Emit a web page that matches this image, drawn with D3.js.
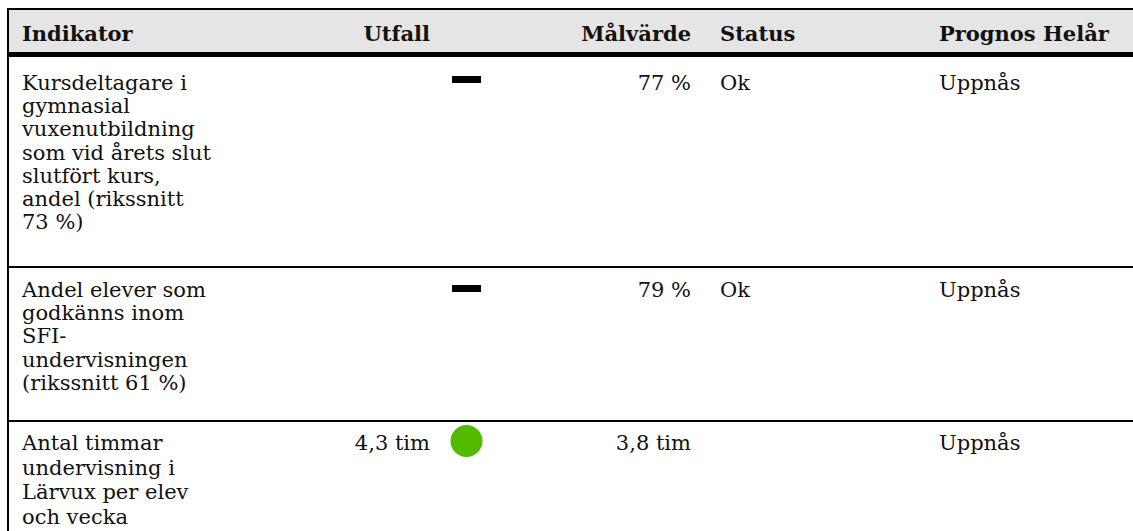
<!DOCTYPE html>
<html><head><meta charset="utf-8">
<script src="https://cdn.jsdelivr.net/npm/d3@7"></script>
<style>html,body{margin:0;padding:0;background:#fff;overflow:hidden}</style>
</head><body>
<svg id="c" width="1133" height="531"></svg>
<script>
// ---- data ----
const headers = ["Indikator", "Utfall", "Målvärde", "Status", "Prognos Helår"];
const indicatorLines = [
  ["Kursdeltagare i", "gymnasial", "vuxenutbildning", "som vid årets slut", "slutfört kurs,", "andel (rikssnitt", "73 %)"],
  ["Andel elever som", "godkänns inom", "SFI-", "undervisningen", "(rikssnitt 61 %)"],
  ["Antal timmar", "undervisning i", "Lärvux per elev", "och vecka"]
];
const utfall = ["", "", "4,3 tim"];
const utfallSymbol = ["dash", "dash", "green"];
const malvarde = ["77 %", "79 %", "3,8 tim"];
const status = ["Ok", "Ok", ""];
const prognos = ["Uppnås", "Uppnås", "Uppnås"];

// ---- layout ----
const W = 1133;
const font = "'DejaVu Serif', Georgia, serif";
const fs = 21;
const lineHs = [23.2, 23.2, 24.5];
const svg = d3.select("#c");
const rowTops = [57, 268, 422];
const firstBase = [90, 297, 450];
const dashOffset = [-14, -12];

// header
svg.append("rect").attr("x", 8).attr("y", 9).attr("width", W).attr("height", 43).attr("fill", "#e5e5e5");
svg.append("rect").attr("x", 7).attr("y", 8).attr("width", W).attr("height", 2).attr("fill", "#000");
svg.append("rect").attr("x", 7).attr("y", 52).attr("width", W).attr("height", 5).attr("fill", "#000");
svg.append("rect").attr("x", 7).attr("y", 8).attr("width", 2).attr("height", 531).attr("fill", "#000");

const colX = [22, 430, 691, 720, 939];
const colAnchor = ["start", "end", "end", "start", "start"];
svg.append("g").selectAll("text").data(headers).join("text")
  .attr("x", (d, i) => colX[i]).attr("y", 41)
  .attr("text-anchor", (d, i) => colAnchor[i])
  .attr("font-family", font).attr("font-size", fs).attr("font-weight", "bold")
  .attr("fill", "#111").text(d => d);

// row separators
svg.append("g").selectAll("rect").data(rowTops.slice(1)).join("rect")
  .attr("x", 7).attr("y", d => d - 2).attr("width", W).attr("height", 2).attr("fill", "#000");

const rows = svg.append("g").selectAll("g").data(indicatorLines).join("g");
rows.each(function (lines, r) {
  const g = d3.select(this);
  const b = firstBase[r];
  g.selectAll("text.ind").data(lines).join("text").attr("class", "ind")
    .attr("x", colX[0]).attr("y", (d, k) => b + k * lineHs[r])
    .attr("font-family", font).attr("font-size", fs).attr("fill", "#111").text(d => d);
  const cells = [[utfall[r], 1], [malvarde[r], 2], [status[r], 3], [prognos[r], 4]];
  cells.forEach(([t, c]) => {
    if (!t) return;
    g.append("text").attr("x", colX[c]).attr("y", b).attr("text-anchor", colAnchor[c])
      .attr("font-family", font).attr("font-size", fs).attr("fill", "#111").text(t);
  });
  const sym = utfallSymbol[r];
  if (sym === "dash") {
    g.append("rect").attr("x", 452).attr("y", b + dashOffset[r]).attr("width", 29).attr("height", 7).attr("fill", "#000");
  } else if (sym === "green") {
    g.append("circle").attr("cx", 466.5).attr("cy", b - 9).attr("r", 16).attr("fill", "#52bb00");
  }
});
</script>
</body></html>
